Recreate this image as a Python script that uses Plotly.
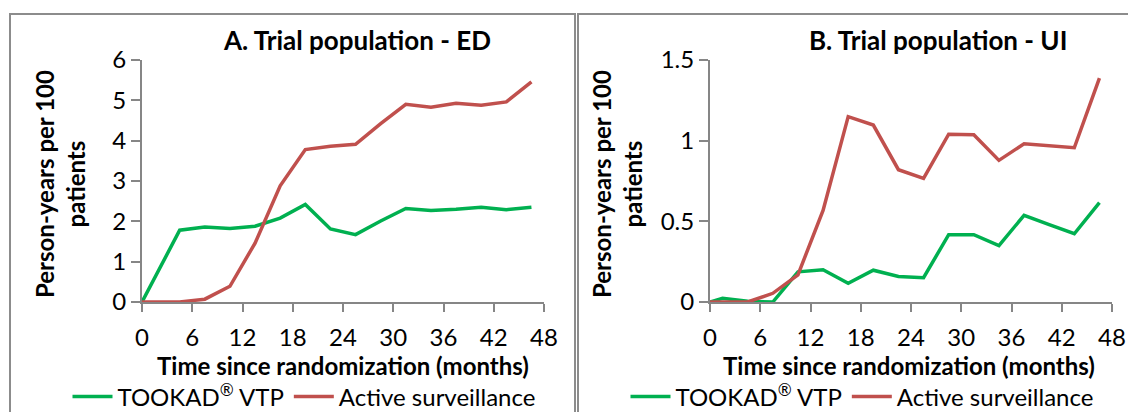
import plotly.graph_objects as go

# ---- data ----
months_a = [0, 4.5, 7.5, 10.5, 13.5, 16.5, 19.5, 22.5, 25.5, 28.5, 31.5, 34.5, 37.5, 40.5, 43.5, 46.5]
ed_tookad = [0, 1.78, 1.86, 1.82, 1.88, 2.08, 2.42, 1.81, 1.67, 2.01, 2.32, 2.27, 2.30, 2.35, 2.29, 2.35]
ed_active = [0, 0, 0.07, 0.39, 1.46, 2.88, 3.78, 3.86, 3.91, 4.42, 4.90, 4.83, 4.93, 4.88, 4.96, 5.46]

months_b = [0, 1.5, 4.5, 7.5, 10.5, 13.5, 16.5, 19.5, 22.5, 25.5, 28.5, 31.5, 34.5, 37.5, 40.5, 43.5, 46.5]
ui_tookad = [0, 0.023, 0.004, 0, 0.187, 0.200, 0.116, 0.197, 0.158, 0.151, 0.417, 0.417, 0.350, 0.537, 0.480, 0.423, 0.616]
ui_active = [0, 0, 0, 0.054, 0.168, 0.568, 1.149, 1.097, 0.820, 0.766, 1.040, 1.037, 0.878, 0.981, 0.967, 0.956, 1.388]

series_names = ["TOOKAD<sup>®</sup> VTP", "Active surveillance"]
panel_titles = ["A. Trial population - ED", "B. Trial population - UI"]
x_title = "Time since randomization (months)"
y_title = "Person-years per 100<br>patients"
x_ticks = [0, 6, 12, 18, 24, 30, 36, 42, 48]

GREEN = "#00B050"
RED = "#C0504D"
AXIS = "#868686"
FONT = "Lato, 'Open Sans', sans-serif"

W, H = 1128, 412
def px(x):
    return x / W
def py(y):
    return 1 - y / H

fig = go.Figure()
fig.add_trace(go.Scatter(x=months_a, y=ed_tookad, mode="lines", name=series_names[0],
                         line=dict(color=GREEN, width=3.5), xaxis="x", yaxis="y", legend="legend"))
fig.add_trace(go.Scatter(x=months_a, y=ed_active, mode="lines", name=series_names[1],
                         line=dict(color=RED, width=3.5), xaxis="x", yaxis="y", legend="legend"))
fig.add_trace(go.Scatter(x=months_b, y=ui_tookad, mode="lines", name=series_names[0],
                         line=dict(color=GREEN, width=3.5), xaxis="x2", yaxis="y2", legend="legend2"))
fig.add_trace(go.Scatter(x=months_b, y=ui_active, mode="lines", name=series_names[1],
                         line=dict(color=RED, width=3.5), xaxis="x2", yaxis="y2", legend="legend2"))

ydom = [py(302), py(60)]
common_x = dict(range=[0, 48], tickvals=x_ticks, showgrid=False, zeroline=False,
                showline=True, linecolor=AXIS, linewidth=2, ticks="outside", ticklen=8,
                tickwidth=2, tickcolor=AXIS, tickfont=dict(size=24, color="black", family=FONT),
                ticklabelstandoff=5, fixedrange=True)
common_y = dict(showgrid=False, zeroline=False, showline=True, linecolor=AXIS, linewidth=2,
                ticks="outside", ticklen=9, tickwidth=2, tickcolor=AXIS,
                tickfont=dict(size=24, color="black", family=FONT), ticklabelstandoff=0,
                fixedrange=True)

fig.update_layout(
    width=W, height=H,
    margin=dict(l=0, r=0, t=0, b=0, autoexpand=False),
    paper_bgcolor="white", plot_bgcolor="white",
    font=dict(family=FONT, color="black"),
    xaxis=dict(domain=[px(142), px(544)], anchor="y", **common_x),
    yaxis=dict(domain=ydom, anchor="x", range=[0, 6], dtick=1, **common_y),
    xaxis2=dict(domain=[px(710), px(1112)], anchor="y2", **common_x),
    yaxis2=dict(domain=ydom, anchor="x2", range=[0, 1.5], tickvals=[0, 0.5, 1, 1.5],
                ticktext=["0", "0.5", "1", "1.5"], **common_y),
    legend=dict(orientation="h", x=px(304), y=py(397), xanchor="center", yanchor="middle",
                font=dict(size=24, color="black", family=FONT), bgcolor="rgba(0,0,0,0)",
                itemwidth=40, tracegroupgap=0),
    legend2=dict(orientation="h", x=px(862), y=py(397), xanchor="center", yanchor="middle",
                 font=dict(size=24, color="black", family=FONT), bgcolor="rgba(0,0,0,0)",
                 itemwidth=40, tracegroupgap=0),
    showlegend=True,
)

# panel borders
for x0, x1 in [(10, 575), (578, 1140)]:
    fig.add_shape(type="rect", xref="paper", yref="paper", x0=px(x0), x1=px(x1),
                  y0=py(430), y1=py(14), line=dict(color="#8C8C8C", width=2), layer="below")

# titles
for cx, t in [(357, panel_titles[0]), (938, panel_titles[1])]:
    fig.add_annotation(text="<b>%s</b>" % t, x=px(cx), y=py(40), xref="paper", yref="paper",
                       showarrow=False, xanchor="center", yanchor="middle",
                       font=dict(size=26, color="black", family=FONT))
# x axis titles
for cx in [343, 909]:
    fig.add_annotation(text="<b>%s</b>" % x_title, x=px(cx), y=py(365), xref="paper", yref="paper",
                       showarrow=False, xanchor="center", yanchor="middle",
                       font=dict(size=24, color="black", family=FONT))
# y axis titles
for cx in [60, 617]:
    fig.add_annotation(text="<b>%s</b>" % y_title, x=px(cx), y=py(184), xref="paper", yref="paper",
                       showarrow=False, xanchor="center", yanchor="middle", textangle=-90,
                       font=dict(size=24, color="black", family=FONT))

fig.write_html("out.html")
